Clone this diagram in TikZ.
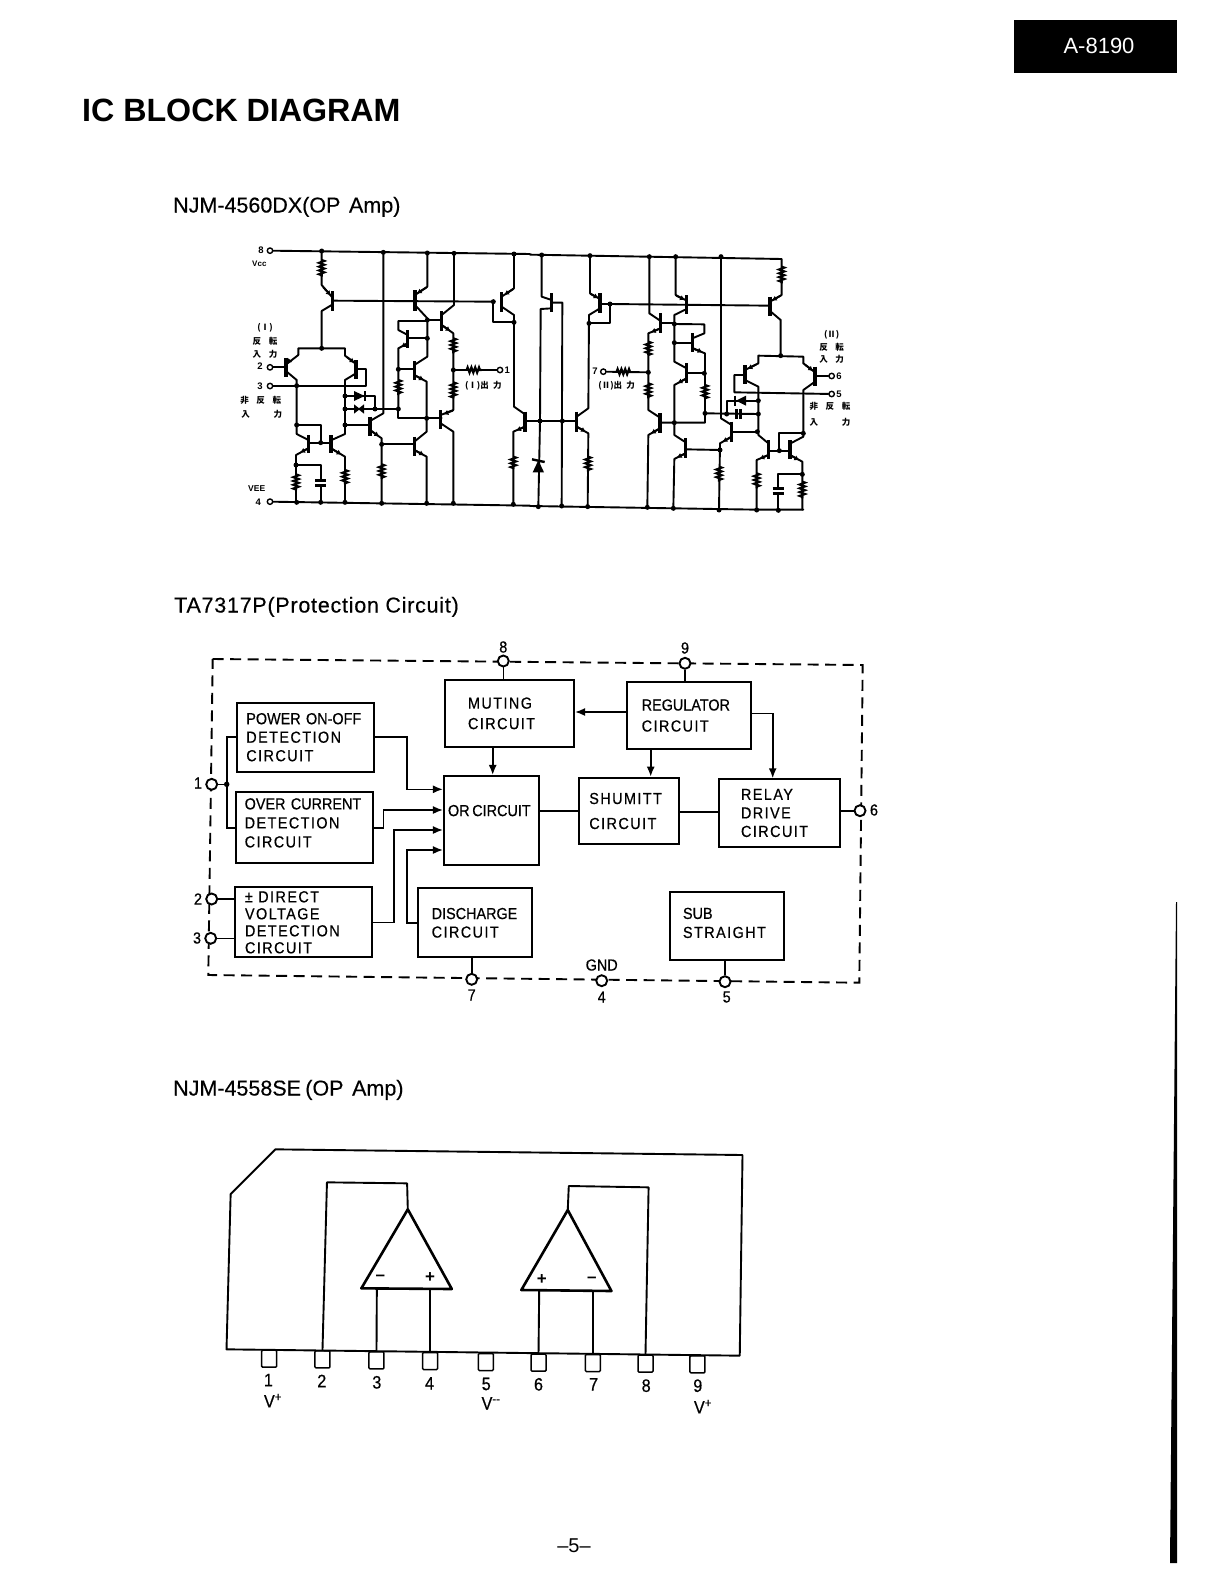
\documentclass[tikz,border=0pt]{standalone}
\usepackage{fontspec}
\setmainfont{Liberation Sans}
\newfontfamily\bkfont[FakeStretch=0.9,FakeBold=0.5]{Liberation Sans}
\newfontfamily\lsfont[FakeStretch=0.9,FakeBold=0.5,LetterSpace=9]{Liberation Sans}
\newfontfamily\ttlfont[FakeBold=0.3]{Liberation Sans}
\newfontfamily\tlsfont[FakeBold=0.3,LetterSpace=3.5]{Liberation Sans}
\newfontfamily\cjk{Noto Sans CJK JP}
\usetikzlibrary{arrows.meta,decorations.pathmorphing}
\tikzset{
  wire/.style={line width=1.9pt,line cap=round,line join=round},
  tbar/.style={line width=3.6pt},
  coilr/.style={line width=2.2pt,decorate,decoration={zigzag,segment length=3.8pt,amplitude=2.6pt}},
  cdot/.style={circle,fill=black,inner sep=0pt,minimum size=5pt},
  cpin/.style={circle,draw,fill=white,line width=1.4pt,inner sep=0pt,minimum size=5.4pt},
  clab/.style={font=\fontsize{9.5}{10}\selectfont\bfseries,inner sep=0pt},
  jlab/.style={font=\fontsize{8.5}{9}\selectfont\cjk\bfseries,inner sep=0pt},
  blkbox/.style={draw,line width=2.1pt,inner ysep=0pt,align=left,font=\fontsize{16}{18.5}\selectfont\bkfont},
  frame/.style={line width=1.9pt,dash pattern=on 11pt off 6.5pt},
  bpin/.style={circle,draw,fill=white,line width=1.9pt,inner sep=0pt,minimum size=11pt},
  conn/.style={line width=1.6pt,line join=miter},
  arr/.style={conn,-{Latex[length=10pt,width=8pt]}},
  blab/.style={font=\fontsize{16}{17}\selectfont\bkfont,inner sep=0pt},
  title/.style={anchor=base west,inner sep=0pt,font=\fontsize{21.5}{24}\selectfont\ttlfont},
  pkg/.style={line width=1.9pt,line join=round},
  opamp/.style={line width=2.6pt,line join=round},
  legbox/.style={draw,rounded corners=1pt,line width=1.5pt,inner sep=0pt,minimum width=15pt,minimum height=17pt},
  plab/.style={font=\fontsize{18}{18}\selectfont\bkfont,inner sep=0pt},
  sgn/.style={inner sep=0pt,font=\fontsize{17}{17}\selectfont\bfseries},
}
\newcommand\Rv[3]{\draw[coilr] (#1,#2)--(#1,#3);}
\newcommand\Rh[3]{\draw[coilr] (#2,#1)--(#3,#1);}
\newcommand\Tb[3]{\draw[tbar] (#1,#2)--(#1,#3);}
\newcommand\Ar[4]{\draw[wire,-{Latex[length=5pt,width=5.5pt]}] (#1,#2)--(#3,#4);}
\newcommand\Dots[1]{\foreach \dx/\dy in {#1}{\node[cdot] at (\dx,\dy) {};}}
\newcommand\Tx[3]{\raisebox{#1pt}{\vbox{\baselineskip=#2pt\lineskiplimit=-20pt #3}}}
\newcommand\blk[7]{%
  \pgfmathsetmacro\blkw{#4-#2}\pgfmathsetmacro\blkh{#5-#3}\pgfmathsetmacro\blkt{\blkw-2*#6}%
  \node[blkbox,minimum width=\blkw pt,minimum height=\blkh pt,text width=\blkt pt,inner xsep=#6 pt] (#1) at ({(#2+#4)/2},{(#3+#5)/2}) {#7};}
\begin{document}
\begin{tikzpicture}[x=1pt,y=-1pt]
\useasboundingbox (0,0) rectangle (1224,1584);
\fill[white] (0,0) rectangle (1224,1584);
% header
\node[fill=black,text=white,minimum width=163pt,minimum height=53pt,inner sep=0pt,font=\fontsize{22}{24}\selectfont] (tag) at (1095.5,46.5) {\raisebox{2pt}{\hspace{7pt}A-8190}};
\node[anchor=base west,inner sep=0pt,font=\fontsize{32.2}{36}\selectfont\bfseries] (head) at (82,121.5) {IC BLOCK DIAGRAM};
\node[title] (t1) at (173,212.5) {NJM-4560DX(OP\hspace{0.4em}Amp)};
\node[title] (t2) at (174,612.5) {\tlsfont TA7317P(Protection\hspace{0.3em}Circuit)};
\node[title] (t3) at (173,1095.5) {NJM-4558SE\hspace{0.2em}(OP\hspace{0.4em}Amp)};
\node[inner sep=0pt,font=\fontsize{20}{20}\selectfont] (pg) at (574,1546) {--5--};
\fill (1176,902)--(1177,902)--(1177,1563)--(1170,1563)--cycle;

% ---------- circuit, left half
\begin{scope}[shift={(230,235)},x=0.33333pt,y=-0.33333pt]
\node[cpin] (p8) at (120,47) {};
\node[cpin] (p4) at (120,800) {};
\node[cpin] (p2) at (120,397) {};
\node[cpin] (p3) at (120,453) {};
\node[cpin] (p1) at (810,405) {};
\draw[wire] (p8)--(900,57);
\draw[wire] (p4)--(900,812);
% Q1 + R
\draw[wire] (275,48)--(275,150)--(305,185);
\Rv{275}{75}{125}
\draw[wire] (305,210)--(275,228)--(275,340);
\Tb{307}{168}{228}
\Ar{280}{157}{303}{182}
\draw[wire] (307,197)--(790,200);
% diff pair left
\draw[wire] (205,360)--(205,340)--(345,340)--(345,362)--(378,387);
\draw[wire] (170,387)--(205,360);
\Tb{168}{368}{427}
\draw[wire] (p2)--(168,397);
\draw[wire] (170,410)--(200,435)--(200,570)--(200,597)--(235,615);
\Ar{178}{378}{170}{386}
\Ar{352}{367}{374}{384}
\Tb{378}{375}{432}
\draw[wire] (p3)--(408,453)--(408,402)--(378,402);
\draw[wire] (378,415)--(345,435)--(345,597)--(305,615);
% mirrors
\draw[wire] (200,570)--(272,570)--(272,623);
\Tb{235}{600}{655}
\Tb{303}{600}{655}
\draw[wire] (235,623)--(303,623);
\draw[wire] (235,640)--(198,660)--(198,802);
\draw[wire] (303,640)--(345,665)--(345,802);
\Ar{235}{640}{210}{653}
\Ar{303}{640}{335}{659}
\Rv{198}{718}{765}
\Rv{345}{705}{748}
\draw[wire] (198,690)--(272,690)--(272,736);
\draw[line width=2.4pt] (255,737)--(288,737) (255,752)--(288,752);
\draw[wire] (272,752)--(272,802);
% diodes
\draw[wire] (345,483)--(435,483)--(435,522);
\draw[wire] (345,522)--(505,522);
\fill (372,468)--(372,498)--(404,483)--cycle;
\draw[line width=2.2pt] (406,468)--(406,498);
\fill (372,508)--(372,536)--(390,522)--cycle;
\fill (402,508)--(402,536)--(384,522)--cycle;
% Q out drive
\draw[wire] (345,570)--(420,570);
\Tb{420}{545}{603}
\draw[wire] (460,52)--(460,535)--(420,558);
\draw[wire] (420,585)--(455,610)--(455,805);
\Ar{420}{585}{448}{605}
\Rv{455}{688}{732}
\draw[wire] (455,628)--(553,628);
\Tb{553}{605}{662}
\draw[wire] (553,620)--(590,590)--(590,550);
\draw[wire] (553,645)--(590,665)--(590,805);
\Ar{553}{645}{583}{661}
% upper group
\draw[wire] (592,54)--(592,155)--(555,180);
\Ar{590}{157}{560}{176}
\Tb{555}{165}{228}
\draw[wire] (555,210)--(592,250)--(592,365)--(553,390);
\Tb{533}{285}{340}
\draw[wire] (592,258)--(505,258)--(505,285)--(533,300);
\draw[wire] (533,310)--(592,310);
\draw[wire] (533,325)--(505,340)--(505,522);
\Ar{533}{325}{512}{336}
\draw[wire] (505,403)--(553,403);
\Tb{553}{378}{435}
\draw[wire] (553,420)--(590,440)--(590,550);
\Ar{553}{420}{582}{436}
\Rv{505}{435}{480}
\draw[wire] (505,522)--(505,550)--(635,550);
\draw[wire] (592,255)--(635,255);
\Tb{635}{228}{288}
\draw[wire] (635,240)--(672,210)--(672,55);
\draw[wire] (635,270)--(670,295)--(670,525)--(632,540);
\Ar{635}{270}{662}{289}
\Rv{670}{310}{355}
\Rv{670}{442}{490}
\Tb{632}{525}{582}
\draw[wire] (632,565)--(670,590)--(670,805);
\Ar{668}{527}{640}{538}
\draw[wire] (p1)--(670,405);
\Rh{405}{710}{755}
\Tb{815}{172}{230}
\draw[wire] (815,185)--(852,160)--(852,57);
\Ar{850}{162}{822}{180}
\draw[wire] (815,215)--(852,240)--(852,515)--(885,538);
\draw[wire] (790,200)--(790,260)--(852,260);
\Tb{885}{530}{590}
\draw[wire] (885,575)--(850,590)--(850,808);
\Ar{885}{575}{858}{587}
\Rv{850}{665}{702}
\Dots{275/48,460/52,592/54,672/55,852/57,275/340,200/452,200/570,345/483,345/522,345/570,272/623,198/690,435/522,505/522,505/403,592/255,592/310,590/550,455/628,670/405,790/200,852/262,200/802,272/802,345/802,455/805,590/805,670/805,850/808}
\node[clab] (n8) at (93,45) {8};
\node[clab,font=\fontsize{8}{8}\selectfont\bfseries] (nvcc) at (88,85) {Vcc};
\node[clab,font=\fontsize{8.5}{9}\selectfont\bfseries] (nvee) at (80,760) {VEE};
\node[clab] (n4) at (85,802) {4};
\node[clab] (n2) at (90,395) {2};
\node[clab] (n3) at (90,453) {3};
\node[clab] (n1) at (832,405) {1};
\node[jlab] (j1) at (105,277) {(Ⅰ)};
\node[jlab] (j2) at (105,318) {反\hspace{0.9em}転};
\node[jlab] (j3) at (105,358) {入\hspace{0.9em}力};
\node[jlab] (j4) at (92,497) {非\hspace{0.9em}反\hspace{0.9em}転};
\node[jlab] (j5) at (95,537) {入\hspace{2.8em}力};
\node[jlab] (j6) at (760,452) {(Ⅰ)出\hspace{0.5em}力};
\end{scope}

% ---------- circuit, right half
\begin{scope}[shift={(520,235)},x=0.33333pt,y=-0.33333pt]
\node[cpin] (p7) at (250,410) {};
\node[cpin] (p6) at (935,423) {};
\node[cpin] (p5) at (935,477) {};
\draw[wire] (30,59)--(785,72)--(785,180)--(750,200);
\draw[wire] (30,813)--(710,824)--(850,824);
\Rv{785}{95}{145}
\Tb{750}{185}{243}
\Ar{782}{182}{755}{197}
\draw[wire] (750,228)--(782,255)--(782,362);
\draw[wire] (270,207)--(750,212);
% centre
\draw[wire] (65,60)--(65,185)--(95,195);
\Tb{95}{175}{232}
\draw[wire] (95,220)--(62,222)--(60,558)--(55,815);
\draw[wire] (95,203)--(127,203)--(125,813);
\draw[wire] (15,558)--(170,558);
\fill (38,712)--(72,712)--(55,676)--cycle;
\draw[line width=2.4pt] (36,673)--(74,681);
\Tb{170}{530}{590}
\draw[wire] (170,545)--(205,520)--(207,240)--(240,220);
\draw[wire] (170,575)--(205,595)--(203,815);
\Ar{170}{575}{198}{591}
\Rv{204}{665}{710}
\Tb{240}{175}{235}
\draw[wire] (210,62)--(210,175)--(240,192);
\Ar{212}{177}{236}{190}
\draw[wire] (207,265)--(270,265)--(270,207)--(240,207);
% 388 column
\draw[wire] (388,65)--(388,235)--(422,258);
\Tb{422}{235}{295}
\draw[wire] (422,265)--(463,265);
\draw[wire] (422,280)--(385,295)--(385,525)--(420,548);
\Ar{422}{280}{392}{292}
\Rv{385}{320}{360}
\Rv{385}{445}{490}
\Tb{420}{535}{593}
\draw[wire] (420,563)--(555,563)--(555,355)--(517,340);
\draw[wire] (420,580)--(385,600)--(382,817);
\Ar{420}{580}{392}{596}
\draw[wire] (p7)--(385,412);
\Rh{410}{290}{330}
% 467 column
\draw[wire] (467,65)--(467,180)--(500,197);
\Ar{469}{182}{495}{195}
\Tb{500}{180}{238}
\draw[wire] (500,222)--(463,240)--(463,380)--(500,400);
\draw[wire] (463,323)--(517,323);
\Tb{517}{295}{352}
\draw[wire] (517,310)--(553,295)--(553,268)--(463,267);
\Ar{520}{340}{548}{352}
\Tb{500}{385}{445}
\draw[wire] (500,430)--(463,450)--(463,600)--(497,622);
\Ar{500}{430}{472}{445}
\draw[wire] (500,415)--(555,415);
\Rv{555}{450}{490}
\draw[wire] (555,535)--(715,537);
\Tb{497}{610}{670}
\draw[wire] (497,643)--(600,645);
\draw[wire] (497,655)--(463,672)--(460,820);
\Ar{497}{655}{470}{668}
% 603 column
\draw[wire] (603,65)--(603,550)--(635,570);
\Tb{635}{560}{620}
\draw[wire] (635,590)--(712,590);
\draw[wire] (635,605)--(600,625)--(597,825);
\Ar{635}{605}{607}{621}
\Rv{597}{695}{740}
% diodes
\draw[wire] (620,537)--(620,497)--(715,497);
\fill (678,482)--(678,512)--(648,497)--cycle;
\draw[line width=2.2pt] (645,482)--(645,512);
\draw[line width=2.4pt] (650,522)--(650,552) (662,522)--(662,552);
% diff pair right
\draw[wire] (715,385)--(715,362)--(850,365)--(850,385);
\Tb{675}{390}{447}
\draw[wire] (675,405)--(715,385);
\Ar{708}{389}{682}{402}
\draw[wire] (675,420)--(643,420)--(643,472)--(p5);
\draw[wire] (675,435)--(715,455)--(715,600)--(745,625);
\Tb{885}{395}{452}
\draw[wire] (885,412)--(850,385);
\Ar{856}{390}{880}{408}
\draw[wire] (885,423)--(p6);
\draw[wire] (885,440)--(850,465)--(850,605)--(812,625);
% mirrors
\Tb{745}{615}{672}
\Tb{810}{615}{672}
\draw[wire] (745,647)--(810,647);
\draw[wire] (850,595)--(778,595)--(778,647);
\draw[wire] (745,660)--(710,675)--(710,825);
\Ar{745}{660}{718}{672}
\Rv{710}{715}{760}
\draw[wire] (810,660)--(847,680)--(847,824);
\Ar{810}{660}{838}{676}
\Rv{847}{740}{790}
\draw[wire] (847,718)--(775,718)--(775,760);
\draw[line width=2.4pt] (758,760)--(792,760) (758,775)--(792,775);
\draw[wire] (775,775)--(775,825);
\Dots{65/60,210/62,388/65,467/65,603/65,60/558,127/558,207/265,270/207,463/267,463/323,553/415,385/412,463/563,555/535,620/537,715/497,715/537,712/590,600/645,782/362,778/647,850/595,847/718,55/815,125/813,203/815,382/817,460/820,597/825,710/825,775/826}
\node[clab] (n7) at (225,410) {7};
\node[clab] (n6) at (957,423) {6};
\node[clab] (n5) at (957,477) {5};
\node[jlab] (k1) at (935,300) {(Ⅱ)};
\node[jlab] (k2) at (935,338) {反\hspace{0.9em}転};
\node[jlab] (k3) at (935,372) {入\hspace{0.9em}力};
\node[jlab] (k4) at (930,515) {非\hspace{0.9em}反\hspace{0.9em}転};
\node[jlab] (k5) at (930,562) {入\hspace{2.8em}力};
\node[jlab] (k6) at (290,452) {(Ⅱ)出\hspace{0.5em}力};
\end{scope}

% ---------- TA7317P block diagram
\coordinate (ftl) at (212.7,659);
\coordinate (ftr) at (862.7,665);
\coordinate (fbr) at (859.3,982.7);
\coordinate (fbl) at (208.3,975);
\draw[frame] (ftl)--(ftr)--(fbr)--(fbl)--cycle;
\blk{power}{237.3}{702.7}{374}{771.7}{9}{POWER ON-OFF\\{\lsfont DETECTION}\\{\lsfont CIRCUIT}}
\blk{over}{235.7}{792.3}{372.7}{863.3}{9}{\Tx{10}{19}{\hbox{OVER CURRENT}\hbox{\lsfont DETECTION}\hbox{\lsfont CIRCUIT}}}
\blk{direct}{235}{887.3}{371.7}{957.3}{10}{\Tx{0}{17}{\hbox{\lsfont ± DIRECT}\hbox{\lsfont VOLTAGE}\hbox{\lsfont DETECTION}\hbox{\lsfont CIRCUIT}}}
\blk{muting}{445}{680}{574}{746.7}{23}{\Tx{0}{20.5}{\hbox{\lsfont MUTING}\hbox{\lsfont CIRCUIT}}}
\blk{orc}{444}{776}{539}{865}{4}{\raisebox{20pt}{OR\,CIRCUIT}}
\blk{discharge}{417.7}{888.3}{531.7}{957.3}{14}{\Tx{0}{18.5}{\hbox{DISCHARGE}\hbox{\lsfont CIRCUIT}}}
\blk{regulator}{626.7}{681.7}{750.7}{749.3}{15}{\Tx{0}{21}{\hbox{REGULATOR}\hbox{\lsfont CIRCUIT}}}
\blk{shumitt}{579.3}{777.7}{678.7}{844.3}{10}{\Tx{0}{25}{\hbox{\lsfont SHUMITT}\hbox{\lsfont CIRCUIT}}}
\blk{relay}{719}{779.3}{840}{846.7}{22}{\Tx{-4}{18.5}{\hbox{\lsfont RELAY}\hbox{\lsfont DRIVE}\hbox{\lsfont CIRCUIT}}}
\blk{sub}{670}{891.7}{784.3}{960}{13}{\Tx{6}{19}{\hbox{SUB}\hbox{\lsfont STRAIGHT}}}
\node[bpin] (b8) at (503.3,661) {};
\node[bpin] (b9) at (685,663.3) {};
\node[bpin] (b1) at (211.7,784.3) {};
\node[bpin] (b2) at (211.7,899) {};
\node[bpin] (b3) at (210.7,938.3) {};
\node[bpin] (b7) at (471.7,979.3) {};
\node[bpin] (b4) at (601.7,980.7) {};
\node[bpin] (b5) at (725,981.7) {};
\node[bpin] (b6) at (860,810.7) {};
\node[blab] (l8) at (503.3,647) {8};
\node[blab] (l9) at (685,648) {9};
\node[blab] (l1) at (198,783) {1};
\node[blab] (l2) at (198,899) {2};
\node[blab] (l3) at (197,938) {3};
\node[blab] (l6) at (874,810) {6};
\node[blab] (l7) at (471.7,995) {7};
\node[blab] (lg) at (601.7,965) {GND};
\node[blab] (l4) at (601.7,997) {4};
\node[blab] (l5) at (726.7,997) {5};
\draw[conn] (b8)--(b8|-muting.north);
\draw[conn] (b9)--(b9|-regulator.north);
\draw[conn] (b7)--(b7|-discharge.south);
\draw[conn] (b5)--(b5|-sub.south);
\draw[conn] (b2)--(b2-|direct.west);
\draw[conn] (b3)--(b3-|direct.west);
\coordinate (jn) at (226.7,784.3);
\draw[conn] (b1)--(jn);
\draw[conn] (power.west)-|(jn);
\draw[conn] (over.west)-|(jn);
\node[cdot,minimum size=5.5pt] (jd) at (jn) {};
\draw[arr] (power.east)-|(406.7,789.3)--(orc.west|-0,789.3);
\draw[arr] (over.east)-|(383.3,810)--(orc.west|-0,810);
\draw[arr] (direct.east)-|(394,830)--(orc.west|-0,830);
\draw[arr] (discharge.west)-|(406.7,850)--(orc.west|-0,850);
\draw[arr] (492.7,0|-muting.south)--(492.7,0|-orc.north);
\draw[arr] (regulator.west|-0,712)--(muting.east|-0,712);
\draw[arr] (650.7,0|-regulator.south)--(650.7,0|-shumitt.north);
\draw[arr] (regulator.east|-0,713.3)-|(772.7,0|-relay.north);
\draw[conn] (orc.east|-0,811)--(shumitt.west|-0,811);
\draw[conn] (shumitt.east|-0,811.7)--(relay.west|-0,811.7);
\draw[conn] (relay.east|-b6)--(b6);

% ---------- NJM-4558SE package
\begin{scope}[shift={(210,1120)},x=0.344pt,y=-0.33333pt]
\draw[pkg] (60,222)--(190,88)--(1548,105)--(1540,707)--(48,688)--cycle;
\foreach \pn/\px/\py in {1/172/716,2/327/718,3/484/721,4/640/723,5/802/726,6/955/728,7/1113/729,8/1266/731,9/1417/733}{
  \node[legbox] (q\pn) at (\px,\py) {};
}
\coordinate (a1) at (575,268); \coordinate (a2) at (1040,270);
\coordinate (i3) at (485,507); \coordinate (i4) at (640,507);
\coordinate (i6) at (957,510); \coordinate (i7) at (1113,513);
\draw[opamp] (a1)--(440,505)--(703,507)--cycle;
\draw[opamp] (a2)--(905,510)--(1167,513)--cycle;
\draw[pkg] (q2.north)--(340,187)--(573,190)--(a1);
\draw[pkg] (a2)--(1043,198)--(1275,202)--(q8.north);
\draw[pkg] (i3)--(q3.north);
\draw[pkg] (i4)--(q4.north);
\draw[pkg] (i6)--(q6.north);
\draw[pkg] (i7)--(q7.north);
\node[sgn] (s1) at (495,472) {--};
\node[sgn] (s2) at (640,473) {+};
\node[sgn] (s3) at (965,478) {+};
\node[sgn] (s4) at (1110,480) {--};
\foreach \pn/\px/\py in {1/170/780,2/325/783,3/485/787,4/638/790,5/803/792,6/955/793,7/1115/793,8/1268/797,9/1418/797}{
  \node[plab] (r\pn) at (\px,\py) {\pn};
}
\node[plab] (v1) at (183,842) {V\textsuperscript{+}};
\node[plab] (v2) at (817,850) {V\textsuperscript{--}};
\node[plab] (v3) at (1433,860) {V\textsuperscript{+}};
\end{scope}
\end{tikzpicture}
\end{document}
